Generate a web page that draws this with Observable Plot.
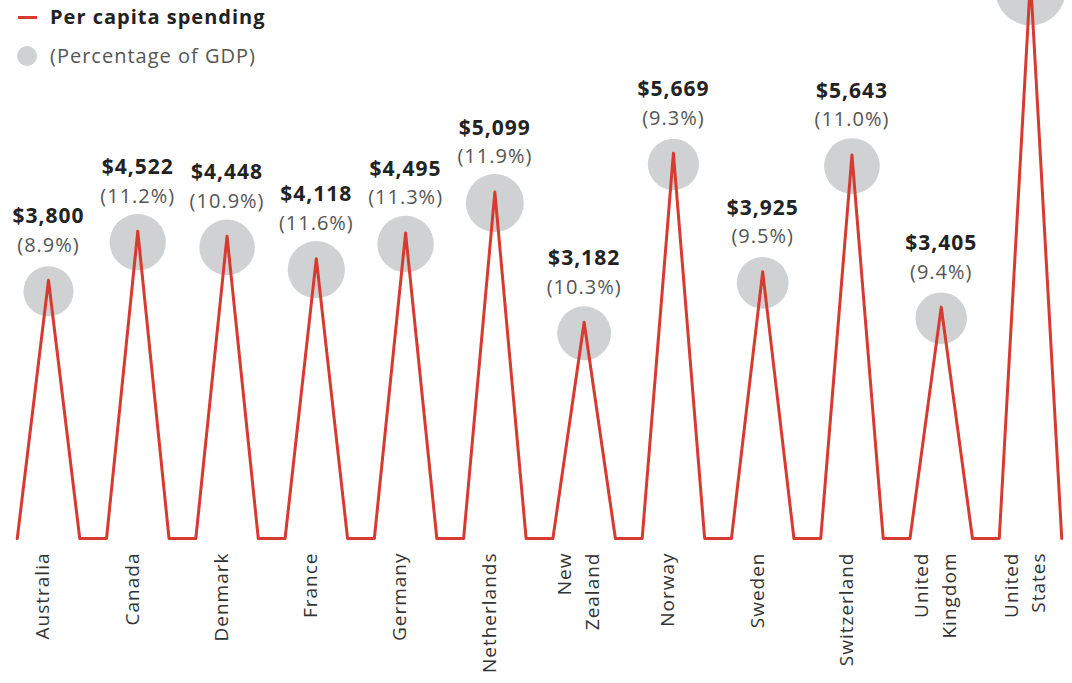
<!DOCTYPE html>
<html>
<head>
<meta charset="utf-8">
<script src="https://cdn.jsdelivr.net/npm/d3@7"></script>
<script src="https://cdn.jsdelivr.net/npm/@observablehq/plot@0.6"></script>
<style>
  body { margin: 0; background: #fff; font-family: "Open Sans", sans-serif; }
  #wrap { position: relative; width: 1072px; height: 683px; overflow: hidden; }
  #legend { position: absolute; left: 0; top: 0; z-index: 2; }
  .lg-line { position: absolute; left: 18px; width: 19px; height: 3px; background: #d63a30; }
  .lg-dot { position: absolute; left: 17px; width: 20px; height: 20px; border-radius: 50%; background: #d0d1d3; }
  .lg-text { position: absolute; left: 50px; font-size: 20px; line-height: 24px; white-space: nowrap; letter-spacing: 1px; }
  #chart svg text { letter-spacing: 1px; }
</style>
</head>
<body>
<div id="wrap">
  <div id="legend">
    <div class="lg-line" style="top:16px"></div>
    <div class="lg-text" style="top:5px;font-weight:bold;color:#222">Per capita spending</div>
    <div class="lg-dot" style="top:46px"></div>
    <div class="lg-text" style="top:44px;color:#555">(Percentage of GDP)</div>
  </div>
  <div id="chart"></div>
</div>
<script>
const countries = ["Australia", "Canada", "Denmark", "France", "Germany", "Netherlands",
  "New\nZealand", "Norway", "Sweden", "Switzerland", "United\nKingdom", "United\nStates"];
const spending = [3800, 4522, 4448, 4118, 4495, 5099, 3182, 5669, 3925, 5643, 3405, 8233];
const gdpShare = [8.9, 11.2, 10.9, 11.6, 11.3, 11.9, 10.3, 9.3, 9.5, 11.0, 9.4, 17.6];

const yMax = 7800;
const rows = countries.map((c, i) => ({ i, country: c, spending: spending[i], gdp: gdpShare[i] }));
const half = 0.35;
const linePts = rows.flatMap(d => [
  { x: d.i - half, y: 0 },
  { x: d.i, y: d.spending },
  { x: d.i + half, y: 0 }
]);
const labeled = rows.filter(d => d.spending <= yMax);
const fmt = d3.format(",");

const chart = Plot.plot({
  width: 1072,
  height: 683,
  marginLeft: 48,
  marginRight: 42,
  marginTop: 8,
  marginBottom: 145,
  style: { fontFamily: "'Open Sans', sans-serif", overflow: "visible", background: "transparent" },
  x: { domain: [0, countries.length - 1], axis: null },
  y: { domain: [0, yMax], axis: null },
  r: { type: "sqrt", domain: [0, 16], range: [0, 33.6] },
  marks: [
    Plot.dot(rows, { x: "i", y: "spending", r: "gdp", fill: "#d0d1d3", dy: 11 }),
    Plot.line(linePts, { x: "x", y: "y", stroke: "#d63a30", strokeWidth: 3 }),
    Plot.text(labeled, { x: "i", y: "spending", text: d => "$" + fmt(d.spending),
      dy: -64, fontWeight: "bold", fontSize: 21, fill: "#222" }),
    Plot.text(labeled, { x: "i", y: "spending", text: d => `(${d.gdp.toFixed(1)}%)`,
      dy: -35, fontSize: 20, fill: "#555" }),
    Plot.text(rows, { x: "i", y: () => 0, text: "country", rotate: -90, textAnchor: "end",
      dx: -8, dy: 14, fontSize: 19, lineHeight: 1.45, fill: "#333" })
  ]
});
document.getElementById("chart").appendChild(chart);
</script>
</body>
</html>
